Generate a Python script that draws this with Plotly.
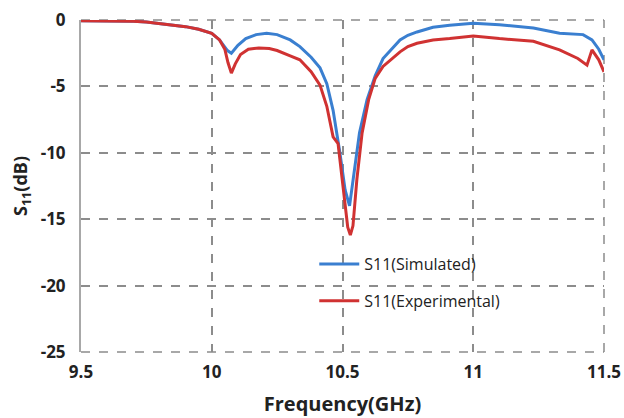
import plotly.graph_objects as go

freq_sim = [9.5, 9.6, 9.7, 9.75, 9.8, 9.85, 9.9, 9.95, 10.0, 10.03, 10.06, 10.075, 10.1, 10.13, 10.17, 10.21,
            10.25, 10.3, 10.337, 10.38, 10.414, 10.44, 10.464, 10.49, 10.51, 10.527, 10.545, 10.565, 10.594,
            10.625, 10.655, 10.69, 10.72, 10.75, 10.785, 10.846, 10.91, 11.0, 11.1, 11.23, 11.33, 11.42,
            11.454, 11.48, 11.5]
s11_sim = [-0.05, -0.05, -0.1, -0.15, -0.25, -0.35, -0.5, -0.7, -1.0, -1.5, -2.3, -2.5, -1.9, -1.4, -1.1, -1.0,
           -1.1, -1.5, -2.0, -2.8, -3.6, -4.8, -6.8, -10.0, -12.8, -14.0, -11.5, -8.5, -6.0,
           -4.2, -2.9, -2.1, -1.5, -1.15, -0.9, -0.55, -0.4, -0.25, -0.35, -0.6, -1.0, -1.1,
           -1.5, -2.2, -3.0]

freq_exp = [9.5, 9.6, 9.7, 9.75, 9.8, 9.85, 9.9, 9.95, 10.0, 10.03, 10.05, 10.062, 10.075, 10.09, 10.11, 10.14,
            10.18, 10.22, 10.25, 10.3, 10.337, 10.38, 10.414, 10.44, 10.464, 10.483, 10.505, 10.52, 10.53, 10.54,
            10.555, 10.575, 10.6, 10.625, 10.655, 10.69, 10.72, 10.75, 10.785, 10.846, 10.91, 11.0, 11.1,
            11.23, 11.33, 11.4, 11.435, 11.454, 11.48, 11.5]
s11_exp = [-0.05, -0.05, -0.1, -0.15, -0.25, -0.35, -0.5, -0.7, -1.0, -1.5, -2.2, -3.2, -4.0, -3.3, -2.6, -2.2,
           -2.1, -2.15, -2.3, -2.7, -3.0, -3.9, -4.9, -6.5, -8.8, -9.3, -13.0, -15.6, -16.2, -15.5,
           -12.0, -8.5, -6.0, -4.4, -3.5, -2.9, -2.4, -2.0, -1.75, -1.5, -1.4, -1.2, -1.4,
           -1.6, -2.25, -2.9, -3.4, -2.25, -3.0, -3.9]

x_ticks = [9.5, 10, 10.5, 11, 11.5]
x_labels = ["9.5", "10", "10.5", "11", "11.5"]
y_ticks = [0, -5, -10, -15, -20, -25]
y_labels = ["0", "-5", "-10", "-15", "-20", "-25"]

font_family = "Open Sans, Liberation Sans, sans-serif"
grid_color = "#8c8c8c"

fig = go.Figure()
fig.add_trace(go.Scatter(x=freq_sim, y=s11_sim, mode="lines", name="S11(Simulated)",
                         legendgroup="a", line=dict(color="#3a7fd0", width=3)))
fig.add_trace(go.Scatter(x=freq_exp, y=s11_exp, mode="lines", name="S11(Experimental)",
                         legendgroup="b", line=dict(color="#d03232", width=3)))

# dashed frame edges (top, bottom, right) matching the grid style
edge = dict(type="line", xref="paper", yref="paper", layer="below",
            line=dict(color=grid_color, width=1.5, dash="dash"))
fig.add_shape(x0=0, x1=1, y0=1, y1=1, **edge)
fig.add_shape(x0=0, x1=1, y0=0, y1=0, **edge)
fig.add_shape(x0=1, x1=1, y0=0, y1=1, **edge)

fig.update_layout(
    width=624, height=418,
    margin=dict(l=81, r=20, t=20, b=66, autoexpand=False),
    paper_bgcolor="white", plot_bgcolor="white",
    font=dict(family=font_family, color="#222"),
    showlegend=True,
    legend=dict(x=0.446, y=0.316, xanchor="left", yanchor="top", bgcolor="rgba(0,0,0,0)",
                font=dict(size=16, color="#222"), tracegroupgap=13, itemwidth=40),
    xaxis=dict(range=[9.5, 11.5], tickvals=x_ticks, ticktext=x_labels, automargin=False,
               showgrid=True, gridcolor=grid_color, griddash="dash", gridwidth=1.5,
               zeroline=False, showline=False, ticks="", ticklabelstandoff=8,
               tickfont=dict(size=17, family=font_family, weight="bold"),
               title=dict(text="<b>Frequency(GHz)</b>", font=dict(size=20), standoff=14)),
    yaxis=dict(range=[-25, 0], tickvals=y_ticks, ticktext=y_labels, automargin=False,
               showgrid=True, gridcolor=grid_color, griddash="dash", gridwidth=1.5,
               zeroline=False, showline=True, linecolor="#a8a8a8", linewidth=2, ticks="",
               ticklabelstandoff=10,
               tickfont=dict(size=17, family=font_family, weight="bold"),
               title=dict(text="<b>S<sub>11</sub>(dB)</b>", font=dict(size=18), standoff=8)),
)

fig.write_html("out.html", config={"displayModeBar": False},
               post_script="document.body.style.margin='0';document.body.style.overflow='hidden';")
